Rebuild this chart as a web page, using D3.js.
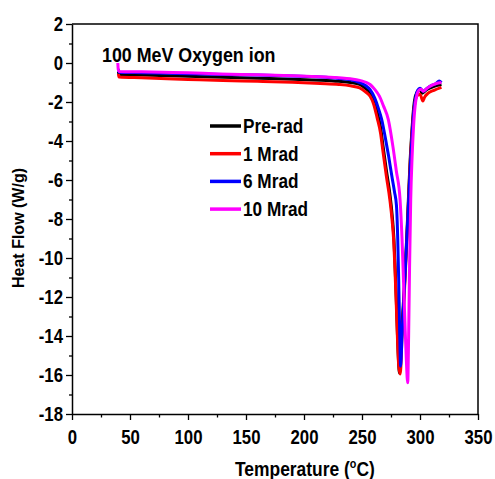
<!DOCTYPE html>
<html>
<head>
<meta charset="utf-8">
<script src="https://cdn.jsdelivr.net/npm/d3@7/dist/d3.min.js"></script>
<style>
  body { margin: 0; background: #fff; }
  svg text { font-family: "Liberation Sans", Arial, sans-serif; font-weight: bold; fill: #000; }
</style>
</head>
<body>
<div id="chart"></div>
<script>
// DSC curves, temperature (deg C) vs heat flow (W/g)
var preRadT = [40, 40.5, 60, 100, 130, 160, 190, 214, 230, 240, 248, 253, 257, 260, 263, 266, 268, 271, 274, 276, 277.5, 278.5, 279.5, 280.5, 281.5, 282.3, 283, 284.5, 286.5, 288.5, 290, 291.5, 293, 294.5, 296, 298, 300, 302, 305, 310, 315, 318.5];
var preRadV = [-0.45, -0.58, -0.62, -0.68, -0.73, -0.78, -0.83, -0.88, -0.94, -1.0, -1.1, -1.3, -1.54, -1.9, -2.5, -3.3, -4.2, -5.5, -6.7, -7.8, -9.0, -10.4, -12.0, -13.8, -15.3, -15.9, -15.5, -13.5, -11.5, -9.0, -7.0, -5.0, -3.5, -2.3, -1.7, -1.45, -1.4, -1.55, -1.4, -1.25, -1.15, -1.1];

var mrad1T = [40, 40.5, 60, 100, 130, 160, 190, 214, 230, 240, 248, 253, 257, 260, 263, 266, 268, 271, 274, 276, 277.5, 278.5, 279.5, 280.5, 281.5, 282.3, 283, 284.5, 286.5, 288.5, 290, 291.5, 293, 294.5, 296, 298, 300, 302.5, 304, 307, 312, 318.5];
var mrad1V = [-0.55, -0.72, -0.76, -0.84, -0.9, -0.94, -0.99, -1.05, -1.1, -1.17, -1.28, -1.48, -1.71, -2.1, -2.8, -3.6, -4.5, -5.8, -7.0, -8.1, -9.3, -10.7, -12.3, -14.0, -15.4, -15.8, -15.95, -14.0, -11.8, -9.3, -7.2, -5.2, -3.7, -2.5, -1.9, -1.65, -1.6, -1.95, -1.75, -1.55, -1.4, -1.25];

var mrad6T = [40, 40.5, 60, 100, 130, 160, 190, 214, 230, 240, 248, 253, 257, 261, 264, 267, 270, 273, 276, 278, 279.7, 280.8, 281.6, 282.4, 283.3, 284.5, 286.5, 288.5, 290.2, 291.8, 293.3, 294.8, 296.5, 298, 300, 303, 306, 310, 314, 316.5, 318.5];
var mrad6V = [-0.3, -0.47, -0.5, -0.55, -0.59, -0.62, -0.67, -0.72, -0.79, -0.86, -1.0, -1.15, -1.37, -1.8, -2.3, -2.9, -3.8, -4.8, -5.9, -6.6, -7.3, -9.0, -11.0, -13.5, -15.55, -14.0, -11.6, -9.2, -7.1, -5.1, -3.6, -2.4, -1.7, -1.4, -1.3, -1.45, -1.3, -1.15, -1.05, -0.92, -1.0];

var mrad10T = [39.5, 39.8, 40.5, 60, 100, 127, 160, 190, 214, 230, 240, 248, 257, 261, 265, 268.5, 272.7, 276.7, 279.5, 282.8, 284.5, 285.8, 287, 288.2, 289.4, 290.2, 291, 292, 293.2, 294.5, 296, 297.5, 299, 301, 303, 306, 310, 314, 318.5];
var mrad10V = [0, -0.3, -0.43, -0.45, -0.5, -0.56, -0.6, -0.65, -0.7, -0.76, -0.81, -0.89, -1.1, -1.35, -1.7, -2.2, -2.9, -4.3, -5.5, -7.0, -9.0, -11.2, -13.3, -15.2, -16.4, -14.0, -10.5, -7.0, -4.8, -3.2, -2.1, -1.6, -1.4, -1.35, -1.45, -1.3, -1.15, -1.05, -1.0];

var seriesNames = ["Pre-rad", "1 Mrad", "6 Mrad", "10 Mrad"];
var seriesColors = ["#000000", "#ff0000", "#0000ff", "#ff00ff"];
var seriesT = [preRadT, mrad1T, mrad6T, mrad10T];
var seriesV = [preRadV, mrad1V, mrad6V, mrad10V];

var xTicks = [0, 50, 100, 150, 200, 250, 300, 350];
var yTicks = [2, 0, -2, -4, -6, -8, -10, -12, -14, -16, -18];

// layout
var width = 495, height = 479;
var margin = {top: 24, right: 17, bottom: 65, left: 72};
var plotW = width - margin.left - margin.right;
var plotH = height - margin.top - margin.bottom;
var squeeze = 0.84; // text in the picture is a bit narrow

var svg = d3.select('#chart').append('svg')
  .attr('width', width)
  .attr('height', height);

var x = d3.scaleLinear().domain([0, 350]).range([margin.left, margin.left + plotW]);
var y = d3.scaleLinear().domain([-18, 2]).range([margin.top + plotH, margin.top]);

// frame (top and right)
svg.append('path')
  .attr('d', 'M' + x(0) + ',' + y(2) + 'H' + x(350) + 'V' + y(-18))
  .attr('fill', 'none')
  .attr('stroke', '#000')
  .attr('stroke-width', 1.5);

// minor ticks
svg.append('g')
  .attr('transform', 'translate(' + margin.left + ',0)')
  .call(d3.axisLeft(y).tickValues(d3.range(-17, 2, 2)).tickSize(3).tickFormat(''))
  .call(function(g) { g.select('.domain').remove(); g.selectAll('line').attr('stroke-width', 1.3); });
svg.append('g')
  .attr('transform', 'translate(0,' + y(-18) + ')')
  .call(d3.axisBottom(x).tickValues(d3.range(25, 350, 50)).tickSize(3.5).tickFormat(''))
  .call(function(g) { g.select('.domain').remove(); g.selectAll('line').attr('stroke-width', 1.3); });

// major axes (plain hyphen for negatives, like the original)
var plain = function(d) { return String(d); };
var yAxis = svg.append('g')
  .attr('transform', 'translate(' + margin.left + ',0)')
  .call(d3.axisLeft(y).tickValues(yTicks).tickSize(6).tickPadding(3).tickSizeOuter(0).tickFormat(plain));
var xAxis = svg.append('g')
  .attr('transform', 'translate(0,' + y(-18) + ')')
  .call(d3.axisBottom(x).tickValues(xTicks).tickSize(6).tickPadding(10).tickSizeOuter(0).tickFormat(plain));

[yAxis, xAxis].forEach(function(g) {
  g.select('.domain').attr('stroke-width', 1.5);
  g.selectAll('line').attr('stroke-width', 1.3);
  g.selectAll('text')
    .style('font-size', '20px')
    .attr('font-family', null);
});
yAxis.selectAll('text')
  .attr('x', -9 / squeeze)
  .attr('transform', 'scale(' + squeeze + ',1)');
xAxis.selectAll('text')
  .attr('transform', 'scale(' + squeeze + ',1)');

// curves
var line = d3.line()
  .x(function(d) { return x(d[0]); })
  .y(function(d) { return y(d[1]); })
  .curve(d3.curveMonotoneX);

seriesNames.forEach(function(name, i) {
  var pts = seriesT[i].map(function(t, j) { return [t, seriesV[i][j]]; });
  svg.append('path')
    .datum(pts)
    .attr('d', line)
    .attr('fill', 'none')
    .attr('stroke', seriesColors[i])
    .attr('stroke-width', 3)
    .attr('stroke-linejoin', 'round');
});

// legend
var legend = svg.append('g').attr('transform', 'translate(210,126)');
seriesNames.forEach(function(name, i) {
  var row = legend.append('g').attr('transform', 'translate(0,' + (i * 27.7) + ')');
  row.append('line')
    .attr('x1', 0).attr('x2', 31)
    .attr('stroke', seriesColors[i])
    .attr('stroke-width', 3.5);
  row.append('text')
    .attr('transform', 'translate(33,7) scale(0.82,1)')
    .style('font-size', '21px')
    .text(name);
});

// annotation
svg.append('text')
  .attr('transform', 'translate(102,62) scale(0.85,1)')
  .style('font-size', '21px')
  .text('100 MeV Oxygen ion');

// axis titles
var xTitle = svg.append('text')
  .attr('transform', 'translate(235,476) scale(0.83,1)')
  .style('font-size', '21px');
xTitle.append('tspan').text('Temperature (');
xTitle.append('tspan').attr('dy', -8).style('font-size', '13px').text('o');
xTitle.append('tspan').attr('dy', 8).text('C)');

svg.append('text')
  .attr('transform', 'translate(24,228) rotate(-90)')
  .attr('text-anchor', 'middle')
  .style('font-size', '16px')
  .text('Heat Flow (W/g)');
</script>
</body>
</html>
